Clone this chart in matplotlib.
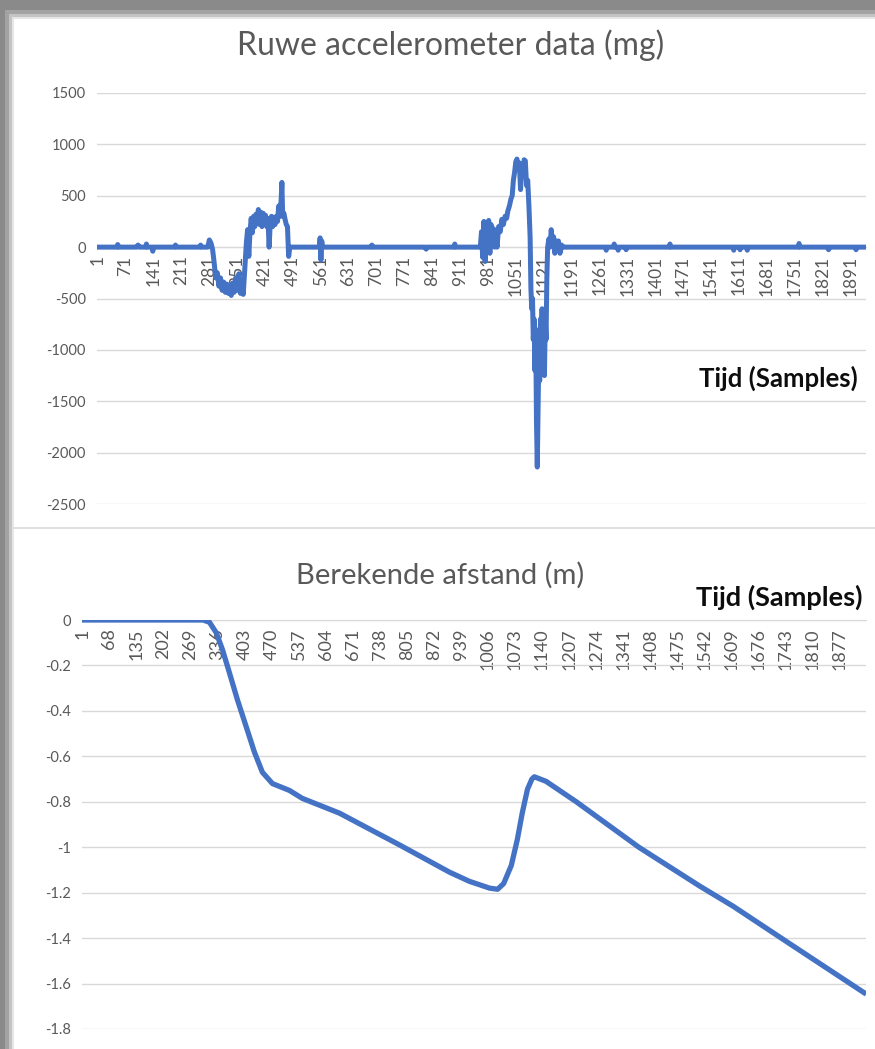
import numpy as np
import matplotlib
matplotlib.use("Agg")
from matplotlib import pyplot as plt
from matplotlib.patches import Rectangle
from matplotlib.lines import Line2D

plt.rcParams['font.family'] = ['Lato', 'DejaVu Sans']
plt.rcParams['axes.unicode_minus'] = False

# raw accelerometer data (mg) as (sample, value)
acc_samples = [1, 50, 52, 54, 100, 103, 106, 122, 124, 126, 138, 140, 142, 195, 197, 199, 258, 260, 262,
               278, 282, 286, 290, 294, 298, 302, 306, 310, 314, 318, 322, 326, 330, 334, 337, 340, 344,
               348, 352, 356, 360, 364, 367, 371, 375, 378, 381, 384, 387, 390, 393, 396, 399, 402, 405,
               408, 411, 414, 417, 420, 423, 426, 429, 432, 435, 438, 441, 444, 447, 450, 453, 456, 459,
               462, 464, 466, 469, 472, 475, 478, 481, 484, 487,
               558, 560, 562, 564, 566, 688, 690, 692, 824, 826, 828, 896, 898, 900,
               962, 965, 968, 971, 974, 977, 980, 983, 986, 989, 992, 995, 998, 1001, 1004, 1008, 1012,
               1016, 1020, 1024, 1028, 1031, 1035, 1039, 1042, 1045, 1048, 1051, 1054, 1057, 1060, 1063,
               1066, 1069, 1072, 1075, 1078, 1081, 1084,
               1087, 1089, 1091, 1093, 1095, 1097, 1099, 1101, 1103, 1105, 1107, 1109, 1111, 1113, 1115,
               1117, 1119, 1121, 1123, 1125, 1127, 1129, 1131, 1134, 1137, 1140, 1143, 1146, 1149, 1152,
               1155, 1158, 1162, 1166, 1170,
               1276, 1278, 1280, 1296, 1298, 1300, 1306, 1308, 1310, 1326, 1328, 1330, 1436, 1438, 1440,
               1596, 1598, 1600, 1612, 1614, 1616, 1630, 1632, 1634, 1760, 1762, 1764, 1834, 1836, 1838,
               1903, 1905, 1907, 1930]
acc_values = [0, 0, 25, 0, 0, 20, 0, 0, 30, 0, 0, -40, 0, 0, 20, 0, 0, 20, 0,
              0, 70, 40, -20, -150, -300, -250, -380, -300, -420, -340, -440, -360, -450, -380, -470, -350, -440,
              -300, -420, -260, -450, -330, -460, -200, 50, 170, -90, 150, 280, 140, 300, 200, 320, 250, 366,
              220, 340, 200, 330, 240, 310, 200, 280, 0, 250, 300, 200, 290, 220, 300, 250, 400, 300,
              450, 630, 300, 330, 270, 220, 200, -90, 0, 0,
              0, 90, -125, 60, 0, 0, 20, 0, 0, -20, 0, 0, 30, 0,
              0, 150, -100, 250, -140, 200, 0, 260, -60, 220, 40, 180, 0, 100, 0, 200, 150,
              270, 220, 300, 280, 350, 400, 470, 500, 650, 725, 830, 857, 780, 820, 560,
              790, 700, 850, 840, 600, 650, 400,
              100, -400, -600, -500, -900, -700, -1200, -800, -1700, -2140, -1600, -1000, -1300, -700, -1100,
              -600, -1200, -800, -1250, -700, -900, -300, 0, 80, 0, 170, 40, 100, -60, 60,
              0, 60, -60, 20, 0,
              0, -30, 0, 0, 30, 0, 0, -30, 0, 0, -25, 0, 0, 30, 0,
              0, -30, 0, 0, -25, 0, 0, -30, 0, 0, 35, 0, 0, -25, 0,
              0, -25, 0, 0]

# calculated distance (m) as (sample, value)
dist_samples = [1, 300, 316, 333, 348, 365, 385, 407, 427, 447, 472, 514, 546, 638, 787, 911, 960, 1010,
                1030, 1045, 1064, 1079, 1091, 1104, 1115, 1121, 1150, 1225, 1380, 1530, 1614, 1750, 1938]
dist_values = [0, 0, -0.01, -0.057, -0.13, -0.23, -0.35, -0.47, -0.58, -0.67, -0.72, -0.75, -0.785, -0.85,
               -0.99, -1.11, -1.15, -1.18, -1.185, -1.16, -1.08, -0.965, -0.85, -0.745, -0.70, -0.69, -0.71,
               -0.80, -1.00, -1.17, -1.26, -1.42, -1.64]
dist_ylabels = ['-1.8', '-1.6', '-1.4', '-1.2', '-1', '-0.8', '-0.6', '-0.4', '-0.2', '0']

acc_ticks = list(range(1, 1892, 70))
dist_ticks = list(range(1, 1878, 67))

blue = '#4472C4'
grey_txt = '#595959'
grid_col = '#d9d9d9'

W, H = 875, 1049
fig = plt.figure(figsize=(W / 100, H / 100), dpi=100)
fig.patch.set_facecolor('#8a8a8a')

# shadow border around the white card
for off, col in [(5, '#a3a3a3'), (9, '#c4c4c4'), (12, '#e6e6e6'), (14, 'white')]:
    fig.add_artist(Rectangle((off / W, 0), 1, 1 - (off + 5) / H, transform=fig.transFigure,
                             facecolor=col, edgecolor='none', zorder=0))
fig.add_artist(Line2D([14 / W, 1], [1 - 528 / H] * 2, color=grid_col, lw=1.2))


def style_axes(ax, ticks, xsize):
    ax.set_facecolor('none')
    for side in ['top', 'right', 'left']:
        ax.spines[side].set_visible(False)
    ax.spines['bottom'].set_position(('data', 0))
    ax.spines['bottom'].set_color(grid_col)
    ax.spines['bottom'].set_zorder(0.5)
    ax.set_xticks(ticks)
    ax.set_xticklabels([str(t) for t in ticks], rotation=90)
    ax.tick_params(axis='x', length=0, pad=6, labelsize=xsize, labelcolor=grey_txt)
    ax.tick_params(axis='y', length=0, pad=8, labelsize=10.5, labelcolor=grey_txt)
    ax.grid(axis='y', color=grid_col, lw=1)
    ax.set_axisbelow(True)


# top chart
ax1 = fig.add_axes([97 / W, 1 - 504 / H, (866 - 97) / W, (504 - 93) / H])
ax1.plot(acc_samples, acc_values, color=blue, lw=3.6, solid_joinstyle='round')
ax1.set_xlim(0, 1930)
ax1.set_ylim(-2500, 1500)
ax1.set_yticks(np.arange(-2500, 1501, 500))
style_axes(ax1, acc_ticks, 12.5)
fig.text(451 / W, 1 - 45 / H, 'Ruwe accelerometer data (mg)', ha='center', va='center',
         fontsize=23, color=grey_txt)
fig.text(858 / W, 1 - 378 / H, 'Tijd (Samples)', ha='right', va='center',
         fontsize=18.5, fontweight='bold', color='#0d0d0d')

# bottom chart
ax2 = fig.add_axes([82 / W, 1 - 1029 / H, (866 - 82) / W, (1029 - 620) / H])
ax2.plot(dist_samples, dist_values, color=blue, lw=3.8, solid_joinstyle='round')
ax2.set_xlim(0, 1943)
ax2.set_ylim(-1.8, 0)
ax2.set_yticks(np.round(np.arange(-1.8, 0.01, 0.2), 1))
ax2.set_yticklabels(dist_ylabels)
style_axes(ax2, dist_ticks, 13)
fig.text(440 / W, 1 - 575 / H, 'Berekende afstand (m)', ha='center', va='center',
         fontsize=21, color=grey_txt)
fig.text(862 / W, 1 - 597 / H, 'Tijd (Samples)', ha='right', va='center',
         fontsize=19.5, fontweight='bold', color='#0d0d0d')

fig.savefig('out.png', dpi=100, facecolor=fig.get_facecolor())
